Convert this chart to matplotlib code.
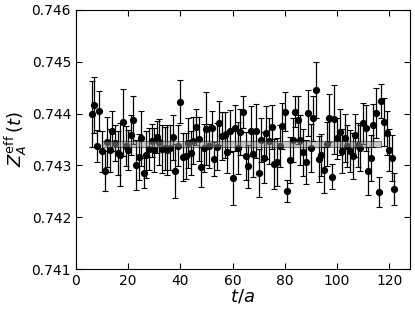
import numpy as np
import matplotlib
matplotlib.use("Agg")
import matplotlib.pyplot as plt

# time slices t/a = 6 ... 122
t = np.arange(6, 123)

# Z_A^eff(t)
z_eff = [
    0.74399, 0.74417, 0.74338, 0.74405, 0.74327, 0.74289, 0.74345, 0.74329,
    0.74366, 0.74343, 0.74324, 0.74321, 0.74383, 0.74337, 0.74330, 0.74359,
    0.74388, 0.74301, 0.74316, 0.74352, 0.74285, 0.74321, 0.74332, 0.74348,
    0.74330, 0.74355, 0.74345, 0.74331, 0.74333, 0.74330, 0.74334, 0.74354,
    0.74289, 0.74338, 0.74423, 0.74316, 0.74318, 0.74343, 0.74324, 0.74348,
    0.74374, 0.74351, 0.74297, 0.74334, 0.74371, 0.74337, 0.74372, 0.74312,
    0.74336, 0.74382, 0.74357, 0.74359, 0.74326, 0.74366, 0.74276, 0.74372,
    0.74333, 0.74365, 0.74403, 0.74318, 0.74298, 0.74366, 0.74322, 0.74367,
    0.74285, 0.74349, 0.74315, 0.74363, 0.74347, 0.74374, 0.74302, 0.74306,
    0.74337, 0.74376, 0.74404, 0.74251, 0.74310, 0.74349, 0.74404, 0.74388,
    0.74349, 0.74325, 0.74307, 0.74401, 0.74333, 0.74391, 0.74446, 0.74312,
    0.74320, 0.74291, 0.74341, 0.74391, 0.74278, 0.74389, 0.74352, 0.74364,
    0.74328, 0.74353, 0.74337, 0.74328, 0.74318, 0.74358, 0.74339, 0.74333,
    0.74381, 0.74372, 0.74289, 0.74314, 0.74377, 0.74401, 0.74249, 0.74425,
    0.74384, 0.74363, 0.74330, 0.74314, 0.74254,
]

# error bars, in units of 1e-4
z_err = [
    6.4, 5.4, 3.1, 3.8, 3.9, 3.9, 4.8, 4.2, 3.9, 3.5, 4.2, 6.0, 6.4, 3.9, 3.9, 3.9,
    4.6, 4.8, 4.4, 5.3, 2.9, 4.5, 4.1, 3.1, 4.3, 3.1, 4.4, 4.6, 4.2, 4.8, 4.3, 4.4,
    5.2, 4.0, 4.1, 4.6, 4.4, 4.8, 4.2, 4.5, 3.4, 4.3, 3.9, 4.6, 7.0, 4.2, 3.3, 3.3,
    4.5, 4.2, 4.6, 4.4, 4.0, 4.1, 5.2, 4.4, 5.0, 4.4, 3.1, 4.6, 4.1, 4.8, 4.5, 5.2,
    4.6, 4.3, 4.9, 5.1, 4.5, 4.2, 4.8, 4.6, 4.0, 4.4, 3.7, 2.1, 4.4, 4.3, 2.9, 4.6,
    4.8, 4.5, 4.2, 4.5, 4.6, 4.3, 5.4, 4.4, 4.0, 4.5, 4.2, 4.6, 2.4, 6.7, 4.0, 4.4,
    4.3, 4.6, 4.0, 4.1, 4.4, 4.2, 4.3, 4.4, 3.9, 4.5, 4.6, 4.4, 4.1, 4.8, 2.9, 3.3,
    4.6, 4.2, 4.0, 4.4, 3.1,
]

# plateau fit band
fit_t = [10, 117]
fit_lo = 0.74335
fit_hi = 0.74347

fig = plt.figure(figsize=(4.15, 3.11), dpi=100)
ax = fig.add_axes([0.183, 0.135, 0.805, 0.833])

ax.errorbar(t, z_eff, yerr=np.array(z_err) * 1e-4, fmt='o', color='k',
            ms=4.2, elinewidth=0.9, capsize=2, capthick=0.8, ecolor='k', zorder=2)

ax.fill_between(fit_t, fit_lo, fit_hi, facecolor='0.6', alpha=0.5,
                edgecolor='k', lw=0.8, zorder=3)

ax.set_xlim(0, 128)
ax.set_ylim(0.741, 0.746)
ax.set_xticks([0, 20, 40, 60, 80, 100, 120])
ax.set_yticks([0.741, 0.742, 0.743, 0.744, 0.745, 0.746])
ax.tick_params(direction='in', top=True, right=True, labelsize=10, length=4)

ax.set_xlabel(r'$t/a$', fontsize=13, labelpad=0)
ax.set_ylabel(r'$Z_A^{\rm eff}\,(t)$', fontsize=13, labelpad=2)

fig.savefig('out.png', dpi=100)
